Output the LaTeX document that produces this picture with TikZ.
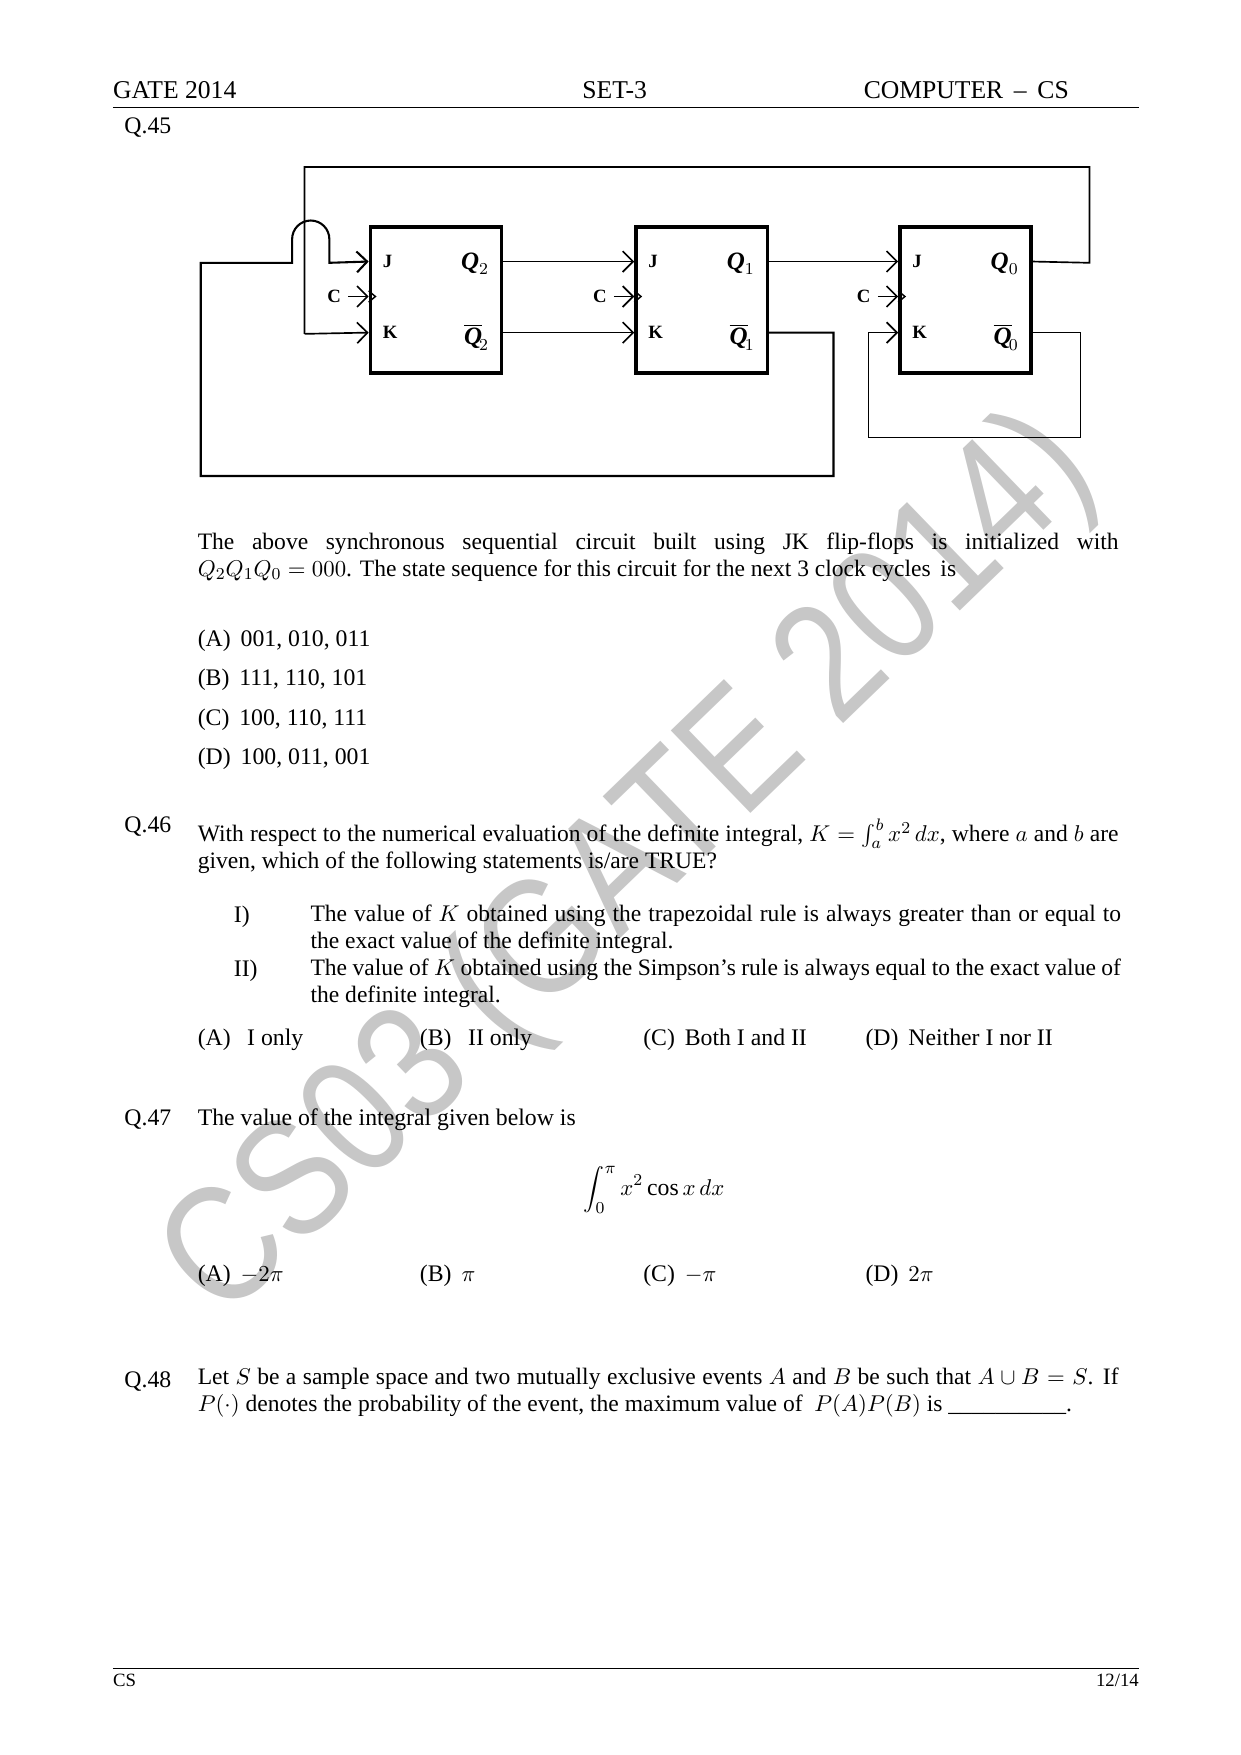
\documentclass[tikz,border=0pt]{standalone}
\usepackage{fontspec}
\setmainfont{Liberation Serif}
\setsansfont{Liberation Sans}
\usetikzlibrary{arrows.meta,calc}
\newcommand{\qbar}[1]{\overline{\textbf{\textit{Q}}}_{\!#1}}
\newcommand{\qout}[1]{\textbf{\textit{Q}}_{#1}}
\newcommand{\wmcolor}{black!22!white}

\begin{document}
\begin{tikzpicture}[x=0.5414pt, y=-0.5414pt, >={Straight Barb[length=5pt]},
    ff/.style={draw, line width=1.6pt, minimum width=63pt, minimum height=70pt, inner sep=0pt},
    pin/.style={font=\bfseries\small},
    qpin/.style={font=\bfseries\large},
    txt/.style={anchor=base west, inner sep=0pt, font=\fontsize{11.4}{13}\selectfont},
    par/.style={anchor=north west, inner sep=0pt, text width=442pt, align=justify, font=\fontsize{11.3}{13}\selectfont}]
    \useasboundingbox (0,0) rectangle (1100,1556);

    % watermark
    \node [rotate=44, font=\sffamily\fontsize{80}{80}\selectfont, text=\wmcolor, xscale=0.85] (wm) at (560,770) {CS03 (GATE 2014)};

    % header and footer
    \node [txt, font=\fontsize{12.3}{14}\selectfont] (hl) at (100,87) {GATE 2014};
    \node [txt, font=\fontsize{12.3}{14}\selectfont, anchor=base] (hc) at (545,87) {SET-3};
    \node [txt, font=\fontsize{12.3}{14}\selectfont, anchor=base east] (hr) at (948,87) {COMPUTER \,–\, CS};
    \draw [line width=0.6pt] (100,95) -- (1010,95);
    \draw [line width=0.6pt] (100,1479) -- (1010,1479);
    \node [txt, font=\fontsize{9}{10}\selectfont] (fl) at (100,1495) {CS};
    \node [txt, font=\fontsize{9}{10}\selectfont, anchor=base east] (fr) at (1010,1495) {12/14};

    % flip-flops
    \node [ff] (ff2) at (386.5,266) {};
    \node [ff] (ff1) at (622,266) {};
    \node [ff] (ff0) at (856,266) {};
    \foreach \f/\i in {ff2/2, ff1/1, ff0/0} {
        \coordinate (\f J) at ($(\f.north west)+(0,32)$);
        \coordinate (\f K) at ($(\f.north west)+(0,95)$);
        \coordinate (\f C) at ($(\f.north west)+(0,63)$);
        \coordinate (\f Q) at ($(\f.north east)+(0,32)$);
        \coordinate (\f N) at ($(\f.north east)+(0,95)$);
        \node [pin, anchor=west] at ($(\f J)+(6,0)$) {J};
        \node [pin, anchor=west] at ($(\f K)+(6,0)$) {K};
        \node [qpin, anchor=east] at ($(\f Q)+(-6,2)$) {$\qout{\i}$};
        \node [qpin, anchor=east] at ($(\f N)+(-6,4)$) {$\qbar{\i}$};
        \draw [line width=0.7pt] ($(\f C)+(0,-5)$) -- ($(\f C)+(6,0)$) -- ($(\f C)+(0,5)$);
        \node [pin, anchor=east] (\f cl) at ($(\f C)+(-18,0)$) {C};
        \draw [->, line width=0.8pt] (\f cl.east) -- (\f C);
    }

    % connections
    \draw [->, line width=0.8pt] (ff2Q) -- (ff1J);
    \draw [->, line width=0.8pt] (ff2N) -- (ff1K);
    \draw [->, line width=0.8pt] (ff1Q) -- (ff0J);
    \draw [line width=0.8pt] (ff0Q) -- (966,233) -- (966,148) -- (270,148) -- (270,296) coordinate (kin);
    \draw [->, line width=0.8pt] (kin) -- (ff2K);
    \draw [->, line width=1pt] (ff1N) -| (739,422) -- (178,422) -- (178,233) -- (259,233) -- (259,212) arc (180:360:16.5) -- (292,233) -- (ff2J);
    \draw [->, line width=0.8pt] (ff0N) -| (958,388) -- (770,388) |- (ff0K);

    % Q.45
    \node [txt] (q45) at (110,118) {Q.45};
    \node [par] (p45) at (175,472) {The above synchronous sequential circuit built using JK flip-flops is initialized with \mbox{$Q_2Q_1Q_0=000$}. The state sequence for this circuit for the next 3 clock cycles\, is};
    \foreach \l/\v/\y in {A/{001, 010, 011}/573, B/{111, 110, 101}/608, C/{100, 110, 111}/643, D/{100, 011, 001}/678}
        \node [txt] at (175,\y) {(\l)\, \v};

    % Q.46
    \node [txt] (q46) at (110,738) {Q.46};
    \node [par] (p46) at (175,726) {With respect to the numerical evaluation of the definite integral, $K=\int_a^b x^2\,dx$, where $a$ and $b$ are given, which of the following statements is/are TRUE?};
    \node [txt] (s1) at (207,818) {I)};
    \node [par, text width=389pt] (t1) at (275,802) {The value of $K$ obtained using the trapezoidal rule is always greater than or equal to the exact value of the definite integral.};
    \node [txt] (s2) at (207,866) {II)};
    \node [par, text width=389pt] (t2) at (275,850) {The value of $K$ obtained using the Simpson’s rule is always equal to the exact value of the definite integral.};
    \node [txt] at (175,927) {(A)\,\; I only};
    \node [txt] at (372,927) {(B)\,\; II only};
    \node [txt] at (570,927) {(C)\, Both I and II};
    \node [txt] at (767,927) {(D)\, Neither I nor II};

    % Q.47
    \node [txt] (q47) at (110,998) {Q.47};
    \node [txt] (p47) at (175,998) {The value of the integral given below is};
    \node [txt, anchor=center] (int) at (580,1055) {$\displaystyle\int_0^{\pi} x^2\cos x\,dx$};
    \node [txt] at (175,1136) {(A)\, $-2\pi$};
    \node [txt] at (372,1136) {(B)\, $\pi$};
    \node [txt] at (570,1136) {(C)\, $-\pi$};
    \node [txt] at (767,1136) {(D)\, $2\pi$};

    % Q.48
    \node [txt] (q48) at (110,1230) {Q.48};
    \node [par] (p48) at (175,1212) {Let $S$ be a sample space and two mutually exclusive events $A$ and $B$ be such that $A\cup B=S$. If $P(\cdot)$ denotes the probability of the event, the maximum value of \ $P(A)P(B)$ is \_\_\_\_\_\_\_\_\_\_.};
\end{tikzpicture}
\end{document}
